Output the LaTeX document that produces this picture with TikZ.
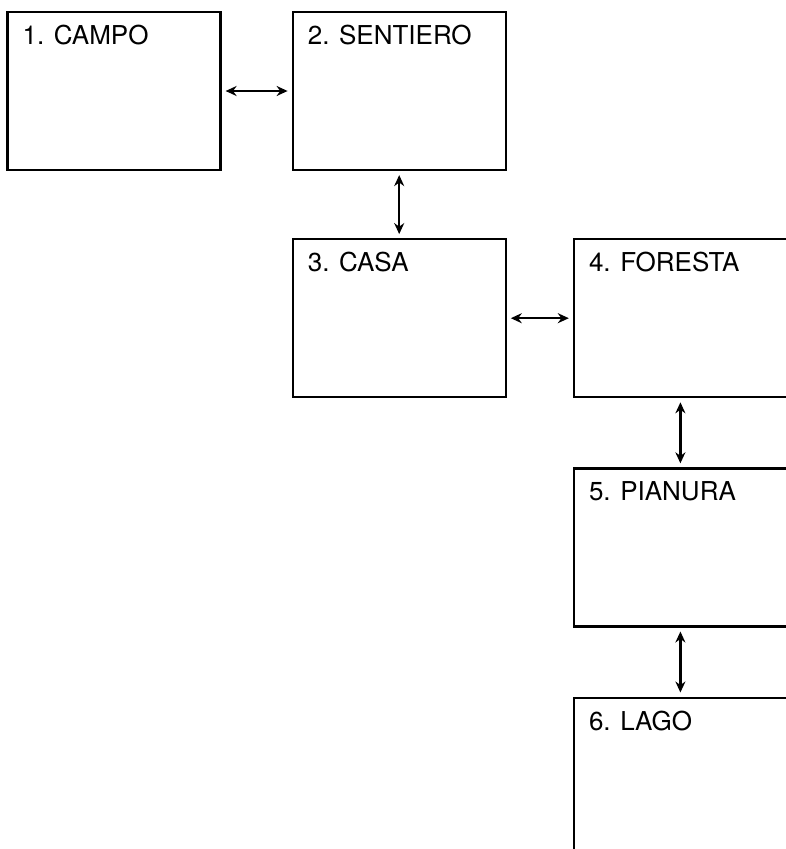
\documentclass[tikz,border=0pt]{standalone}
\usepackage{fontspec}
\setmainfont{TeX Gyre Heros}
\usetikzlibrary{arrows.meta,positioning}

\begin{document}
\begin{tikzpicture}[
    x=1pt, y=-1pt,
    node distance=70pt,
    room/.style={draw, line width=2.2pt, minimum width=213pt, minimum height=158pt, inner sep=0pt},
    title/.style={anchor=north west, inner sep=0pt, xshift=16pt, yshift=-14pt, font=\fontsize{26}{30}\selectfont},
    arrow/.style={{Stealth[length=11pt,width=10pt]}-{Stealth[length=11pt,width=10pt]}, line width=2.2pt, shorten <=4pt, shorten >=4pt}
]
\useasboundingbox (0,0) rectangle (786,849);
\clip (0,0) rectangle (786,849);
\node[room] (campo) at (114,91) [label={[title]north west:1. CAMPO}] {};
\node[room] (sentiero) [right=70pt of campo, label={[title]north west:2. SENTIERO}] {};
\node[room] (casa) [below=67pt of sentiero, label={[title]north west:3. CASA}] {};
\node[room] (foresta) [right=66pt of casa, label={[title]north west:4. FORESTA}] {};
\node[room] (pianura) [below=69pt of foresta, label={[title]north west:5. PIANURA}] {};
\node[room] (lago) [below=69pt of pianura, label={[title]north west:6. LAGO}] {};
\draw[arrow] (campo) -- (sentiero);
\draw[arrow] (sentiero) -- (casa);
\draw[arrow] (casa) -- (foresta);
\draw[arrow] (foresta) -- (pianura);
\draw[arrow] (pianura) -- (lago);
\end{tikzpicture}
\end{document}
